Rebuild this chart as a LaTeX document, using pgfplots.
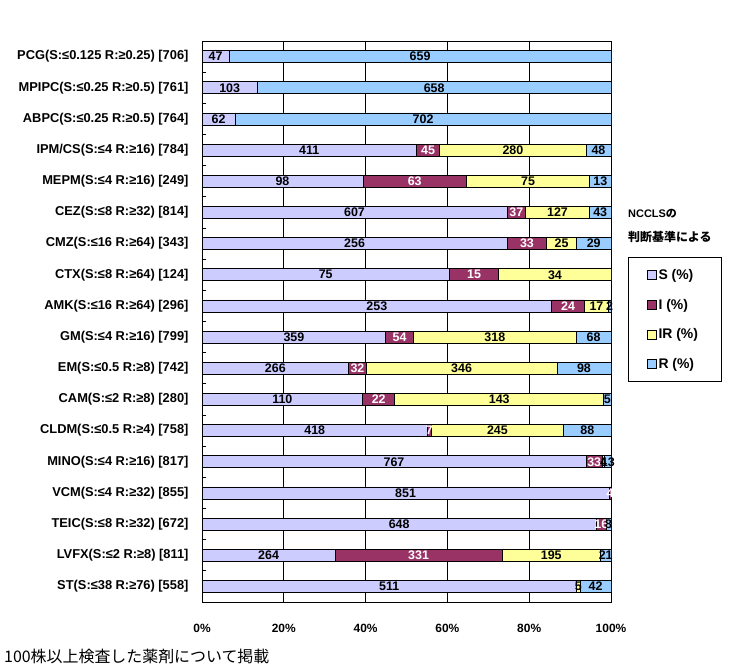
\documentclass[border=0pt]{standalone}
\usepackage{pgfplots}
\pgfplotsset{compat=1.18}
\usepackage{pgfplotstable}
\usepackage{fontspec}
\setmainfont{Liberation Sans}
\newfontfamily\cjk{Noto Sans CJK JP}
\definecolor{cS}{RGB}{204,204,255}
\definecolor{cI}{RGB}{153,51,102}
\definecolor{cIR}{RGB}{255,255,153}
\definecolor{cR}{RGB}{153,204,255}

\pgfplotstableread[col sep=comma]{
name,S,I,IR,R,N
PCG,47,0,0,659,706
MPIPC,103,0,0,658,761
ABPC,62,0,0,702,764
IPMCS,411,45,280,48,784
MEPM,98,63,75,13,249
CEZ,607,37,127,43,814
CMZ,256,33,25,29,343
CTX,75,15,34,0,124
AMK,253,24,17,2,296
GM,359,54,318,68,799
EM,266,32,346,98,742
CAM,110,22,143,5,280
CLDM,418,7,245,88,758
MINO,767,33,4,13,817
VCM,851,4,0,0,855
TEIC,648,16,0,8,672
LVFX,264,331,195,21,811
ST,511,0,5,42,558
}\datatable

\pgfplotsset{
  sq legend/.style={legend image code/.code={\draw[##1,draw=black,line width=0.6bp] (0bp,-4.5bp) rectangle (9bp,4.5bp);}},
  common/.style={
    at={(202bp,69bp)}, anchor=south west,
    scale only axis, width=409bp, height=561bp,
    xmin=0, xmax=100, ymin=-0.5, ymax=17.5, y dir=reverse,
  },
}

\begin{document}
\begin{tikzpicture}
\useasboundingbox (0,0) rectangle (737bp,671bp);
\begin{axis}[
  common,
  xbar stacked, bar width=12bp,
  xtick={0,20,40,60,80,100},
  xticklabels={0\%,20\%,40\%,60\%,80\%,100\%},
  xmajorgrids, major grid style={black, line width=0.8bp},
  major x tick style={draw=none},
  ytick={0,...,17},
  yticklabels={PCG(S:≤0.125 R:≥0.25) [706],MPIPC(S:≤0.25 R:≥0.5) [761],ABPC(S:≤0.25 R:≥0.5) [764],IPM/CS(S:≤4 R:≥16) [784],MEPM(S:≤4 R:≥16) [249],CEZ(S:≤8 R:≥32) [814],CMZ(S:≤16 R:≥64) [343],CTX(S:≤8 R:≥64) [124],AMK(S:≤16 R:≥64) [296],GM(S:≤4 R:≥16) [799],EM(S:≤0.5 R:≥8) [742],CAM(S:≤2 R:≥8) [280],CLDM(S:≤0.5 R:≥4) [758],MINO(S:≤4 R:≥16) [817],VCM(S:≤4 R:≥32) [855],TEIC(S:≤8 R:≥32) [672],LVFX(S:≤2 R:≥8) [811],ST(S:≤38 R:≥76) [558]},
  major y tick style={draw=none},
  minor ytick={0.5,1.5,...,16.5},
  minor tick length=4bp,
  minor y tick style={black, line width=0.8bp},
  ytick pos=left,
  axis line style={line width=1bp},
  xticklabel style={font=\fontsize{12}{14}\selectfont\bfseries, yshift=-19bp},
  yticklabel style={font=\fontsize{12.9}{14}\selectfont\bfseries, xshift=-10bp},
  legend style={at={(1.0416,0.615)}, anchor=north west, draw=black, line width=0.8bp,
    font=\fontsize{14}{16}\selectfont\bfseries, row sep=14bp, inner xsep=19bp, inner ysep=10bp,
    nodes={inner xsep=1.5bp}},
  legend cell align=left,
]
\addplot[fill=cS, draw=black, line width=0.8bp, sq legend] table[x expr=\thisrow{S}/\thisrow{N}*100, y expr=\coordindex]{\datatable};
\addplot[fill=cI, draw=black, line width=0.8bp, sq legend] table[x expr=\thisrow{I}/\thisrow{N}*100, y expr=\coordindex]{\datatable};
\addplot[fill=cIR, draw=black, line width=0.8bp, sq legend] table[x expr=\thisrow{IR}/\thisrow{N}*100, y expr=\coordindex]{\datatable};
\addplot[fill=cR, draw=black, line width=0.8bp, sq legend] table[x expr=\thisrow{R}/\thisrow{N}*100, y expr=\coordindex]{\datatable};
\addlegendentry{S (\%)}
\addlegendentry{I (\%)}
\addlegendentry{IR (\%)\hspace*{3bp}}
\addlegendentry{R (\%)}
\end{axis}
\begin{axis}[
  common,
  hide axis, clip=false,
  point meta=explicit,
  /pgf/number format/assume math mode=true,
  nodes near coords={\pgfmathfloatifflags{\pgfplotspointmeta}{0}{}{\pgfmathprintnumber{\pgfplotspointmeta}}},
  every node near coord/.style={anchor=center, text=black, font=\fontsize{12.5}{14}\selectfont\bfseries, inner sep=0pt},
]
\addplot[draw=none, mark=none] table[x expr=\thisrow{S}/2/\thisrow{N}*100, y expr=\coordindex, meta=S]{\datatable};
\addplot[draw=none, mark=none, every node near coord/.append style={text=white}] table[x expr=(\thisrow{S}+\thisrow{I}/2)/\thisrow{N}*100, y expr=\coordindex, meta=I]{\datatable};
\addplot[draw=none, mark=none] table[x expr=(\thisrow{S}+\thisrow{I}+\thisrow{IR}/2)/\thisrow{N}*100, y expr=\coordindex, meta=IR]{\datatable};
\addplot[draw=none, mark=none] table[x expr=(\thisrow{S}+\thisrow{I}+\thisrow{IR}+\thisrow{R}/2)/\thisrow{N}*100, y expr=\coordindex, meta=R]{\datatable};
\end{axis}
\node[anchor=west, inner sep=0pt, font=\fontsize{11}{14}\selectfont\bfseries] at (628bp,457bp) {NCCLS{\cjk の}};
\node[anchor=west, inner sep=0pt, font=\fontsize{12}{14}\selectfont\bfseries\cjk] at (628bp,434bp) {判断基準による};
\node[anchor=west, inner sep=0pt, font=\fontsize{16}{18}\selectfont\cjk] at (4bp,15bp) {100株以上検査した薬剤について掲載};
\end{tikzpicture}
\end{document}
